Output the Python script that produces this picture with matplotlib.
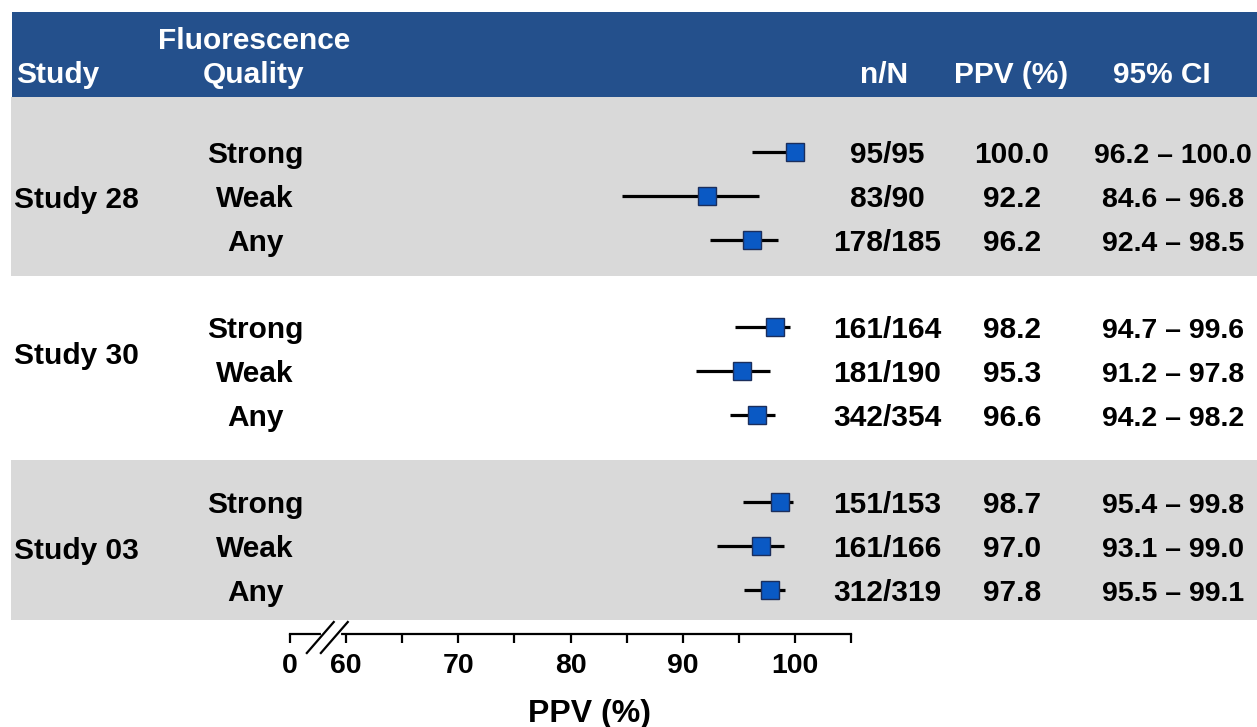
import matplotlib.pyplot as plt
from matplotlib.patches import Rectangle

plt.rcParams['font.family'] = ['Liberation Sans', 'DejaVu Sans']
plt.rcParams['font.weight'] = 'bold'

# --- data -------------------------------------------------------------
studies = ['Study 28', 'Study 30', 'Study 03']
quality = ['Strong', 'Weak', 'Any']
n_over_N = ['95/95', '83/90', '178/185',
            '161/164', '181/190', '342/354',
            '151/153', '161/166', '312/319']
ppv = [100.0, 92.2, 96.2,
       98.2, 95.3, 96.6,
       98.7, 97.0, 97.8]
ci_low = [96.2, 84.6, 92.4,
          94.7, 91.2, 94.2,
          95.4, 93.1, 95.5]
ci_high = [100.0, 96.8, 98.5,
           99.6, 97.8, 98.2,
           99.8, 99.0, 99.1]
tick_vals = [55, 60, 65, 70, 75, 80, 85, 90, 95, 100, 105]
tick_text = ['0', '60', '', '70', '', '80', '', '90', '', '100', '']

# --- layout (pixels) --------------------------------------------------
W, H = 1257, 727
HEADER_BLUE = '#24508C'
BAND_GREY = '#D9D9D9'
row_y = [152 + g * 175 + r * 44 for g in range(3) for r in range(3)]
band_spans = [(97, 276), (276, 460), (460, 620)]
band_fill = [BAND_GREY, 'white', BAND_GREY]
study_y = [197, 353, 548]
FS = 21.5

fig = plt.figure(figsize=(W / 100, H / 100), dpi=100)
bg = fig.add_axes([0, 0, 1, 1])
bg.set_xlim(0, W)
bg.set_ylim(H, 0)
bg.axis('off')

# header bar and study bands
bg.add_patch(Rectangle((12, 12), W - 12, 85, color=HEADER_BLUE, lw=0))
for (y0, y1), c in zip(band_spans, band_fill):
    bg.add_patch(Rectangle((11, y0), W - 11, y1 - y0, color=c, lw=0))

hdr = dict(color='white', fontsize=FS, fontweight='bold', va='baseline')
bg.text(16, 83, 'Study', ha='left', **hdr)
bg.text(254, 49, 'Fluorescence', ha='center', **hdr)
bg.text(254, 83, 'Quality', ha='center', **hdr)
bg.text(884, 83, 'n/N', ha='center', **hdr)
bg.text(1011, 83, 'PPV (%)', ha='center', **hdr)
bg.text(1162, 83, '95% CI', ha='center', **hdr)

body = dict(color='black', fontsize=FS, fontweight='bold', va='baseline')
for s, y in zip(studies, study_y):
    bg.text(14, y + 11, s, ha='left', **body)
for i, y in enumerate(row_y):
    bg.text(255, y + 11, quality[i % 3], ha='center', **body)
    bg.text(887, y + 11, n_over_N[i], ha='center', **body)
    bg.text(1012, y + 11, f'{ppv[i]:.1f}', ha='center', **body)
    bg.text(1173, y + 11, f'{ci_low[i]:.1f} \u2013 {ci_high[i]:.1f}',
            ha='center', color='black', fontsize=20.5, fontweight='bold',
            va='baseline')

bg.text(589, 722, 'PPV (%)', ha='center', va='baseline',
        fontsize=23, fontweight='bold')

# --- forest plot ------------------------------------------------------
ax = fig.add_axes([290 / W, 0, (851 - 290) / W, 1])
ax.set_xlim(55, 105)
ax.set_ylim(H, 0)
ax.patch.set_alpha(0)
for side in ['top', 'right', 'left']:
    ax.spines[side].set_visible(False)
ax.spines['bottom'].set_position(('data', 634))
ax.spines['bottom'].set_linewidth(1.6)
ax.set_yticks([])
ax.set_xticks(tick_vals)
ax.set_xticklabels(tick_text, fontsize=20.5, fontweight='bold')
ax.tick_params(axis='x', direction='out', length=6.5, width=1.6, pad=7)

ax.hlines(row_y, ci_low, ci_high, color='black', lw=2.3, zorder=2)
ax.plot(ppv, row_y, 's', ms=12.5, mfc='#0A59C4', mec='#1B2E5C',
        mew=1.0, ls='none', zorder=3)

# axis break between 0 and 60
ax.plot([57.95, 59.4], [634, 634], color='white', lw=3, zorder=4,
        clip_on=False)
for off in [0.0, 1.25]:
    ax.plot([56.5 + off, 58.9 + off], [653, 622], color='black', lw=1.6,
            zorder=5, clip_on=False)

fig.savefig('out.png', dpi=100)
